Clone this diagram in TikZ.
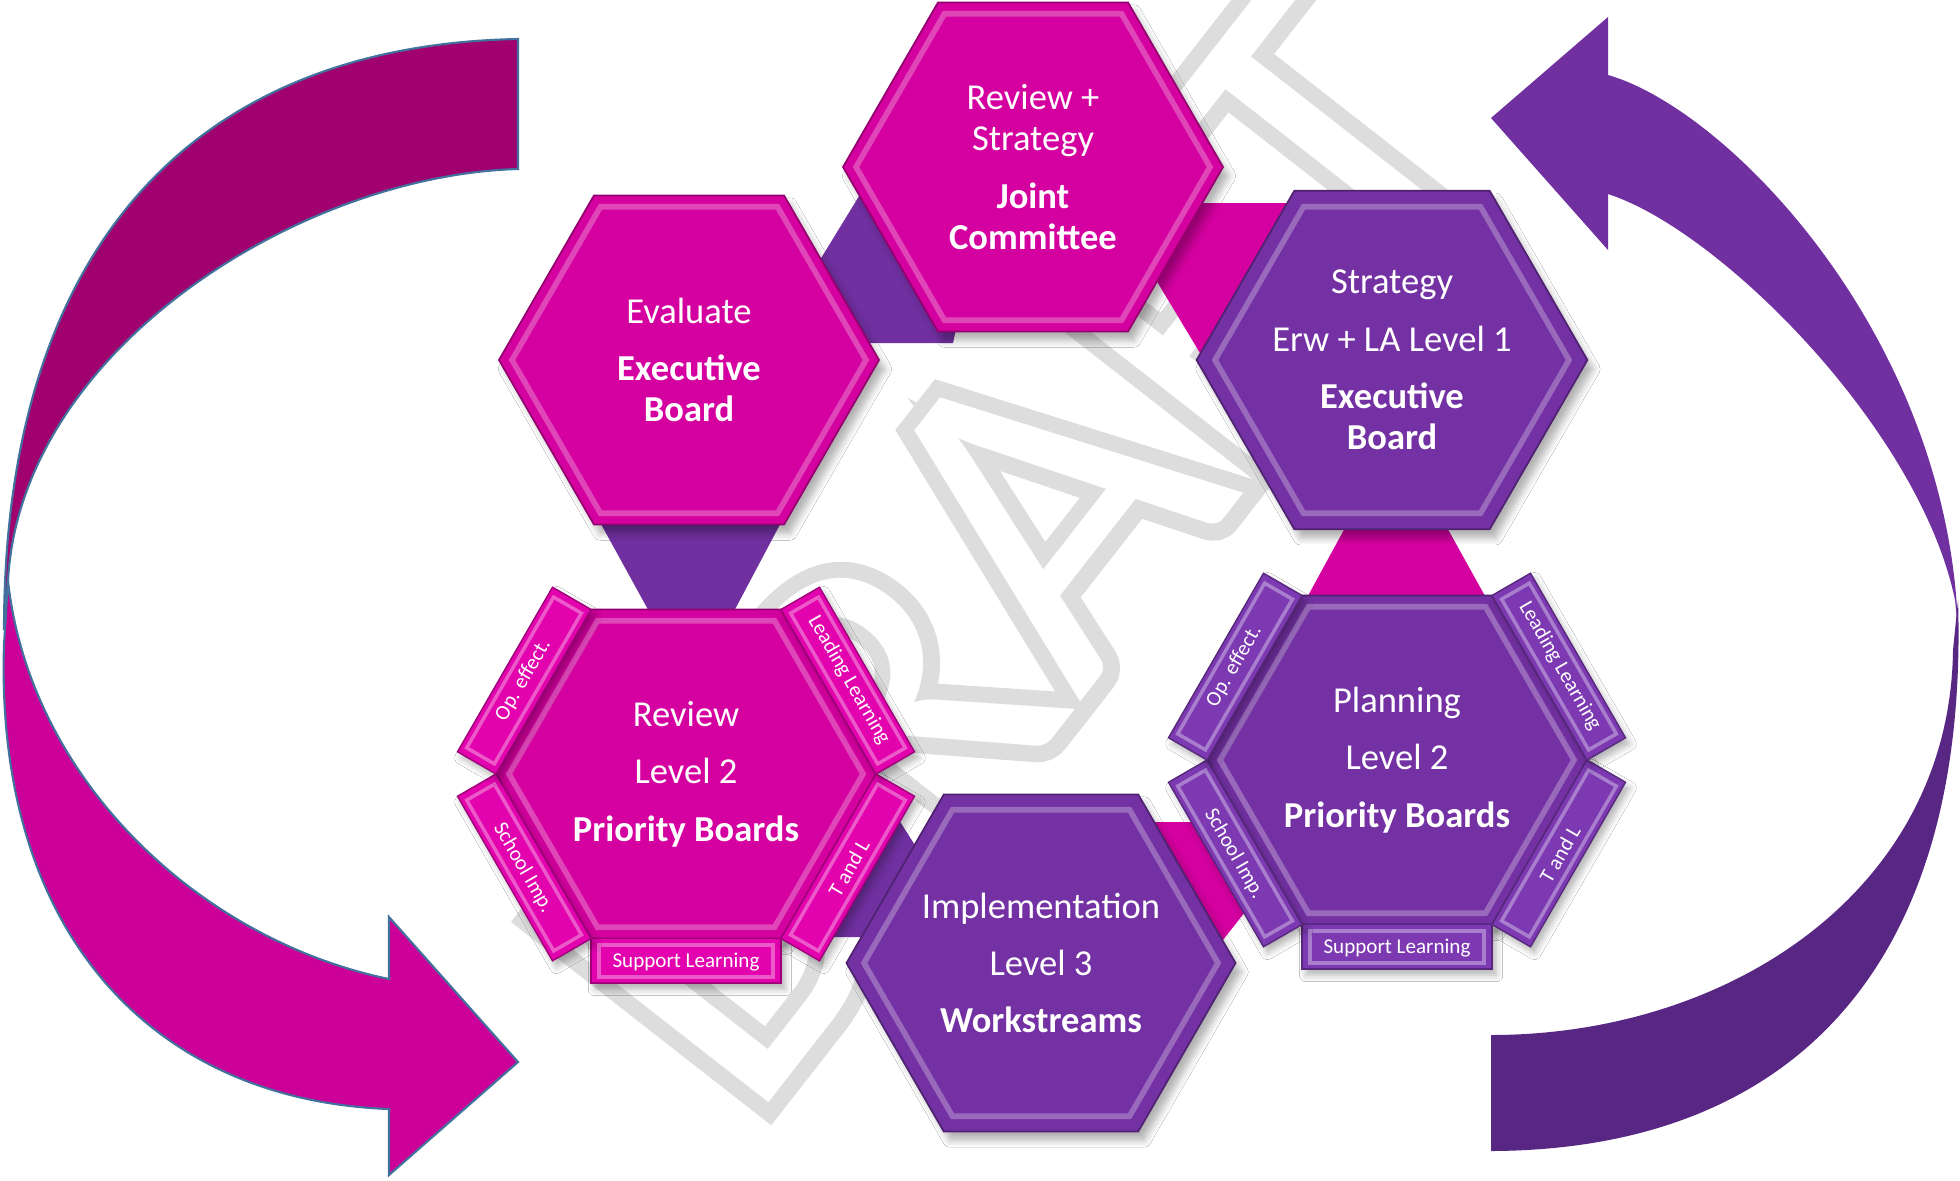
\documentclass[tikz,border=0pt]{standalone}
\usepackage{fontspec}
\setmainfont{Carlito}
\newfontfamily\wmbold[FakeBold=7]{Carlito}
\usetikzlibrary{shapes.geometric,calc,shadows.blur}

\definecolor{magc}{HTML}{D4009F}
\definecolor{purc}{HTML}{7331A3}
\definecolor{tabmag}{HTML}{E202AE}
\definecolor{tabpur}{HTML}{7C39B2}
\definecolor{arrdark}{HTML}{A1006F}
\definecolor{arrlight}{HTML}{CC0099}
\definecolor{arrline}{HTML}{41719C}
\definecolor{parr}{HTML}{7030A0}
\definecolor{parrdark}{HTML}{582784}
\definecolor{wmgray}{HTML}{DDDDDD}

\newcommand\hexfont{\fontsize{10.4}{11.7}\selectfont}
\newcommand\tabfont{\fontsize{6}{7}\selectfont}

\tikzset{
  hexa/.style={regular polygon, regular polygon sides=6, minimum size=3.8cm,
    inner sep=0pt, outer sep=0pt, fill=#1, draw=#1!70!black, line width=0.5pt,
    text=white, align=center, font=\hexfont,
    blur shadow={shadow xshift=0.6mm, shadow yshift=-0.9mm, shadow blur steps=6, shadow opacity=30}},
  bevel/.style={white, opacity=0.28, line width=1.6pt, line join=miter},
  tabbox/.style={fill=#1, draw=#1!70!black, line width=0.4pt,
    blur shadow={shadow xshift=0.4mm, shadow yshift=-0.6mm, shadow blur steps=5, shadow opacity=30}},
  tabhi/.style={white, opacity=0.35, line width=1pt},
  tabtxt/.style={transform shape, text=white, font=\tabfont, inner sep=0pt},
  wm/.style={rotate=52, inner sep=0pt},
}

\begin{document}
\begin{tikzpicture}
\useasboundingbox (0,0) rectangle (19.6,-11.8);
\fill[white] (0,0) rectangle (19.6,-11.8);

% watermark
\node[wm, text=wmgray, font=\wmbold\fontsize{132}{132}\selectfont] (wmback) at (10.15,-5.45) {DRAFT};
\node[wm, text=white, font=\fontsize{132}{132}\selectfont] (wmtxt) at (wmback.center) {DRAFT};

% left arrow
\filldraw[fill=arrdark, draw=arrline, line width=0.6pt] (5.18,-0.39) .. controls (2.0,-0.45) and (0.04,-2.4) .. (0.04,-6.3)
  -- (0.08,-5.81) .. controls (0.2,-3.5) and (3.0,-1.75) .. (5.18,-1.69) -- cycle;
\filldraw[fill=arrlight, draw=arrline, line width=0.6pt] (0.08,-5.81) .. controls (0.3,-7.8) and (2.0,-9.4) .. (3.89,-9.79)
  -- (3.89,-9.17) -- (5.18,-10.62) -- (3.89,-11.75) -- (3.89,-11.09)
  .. controls (1.5,-11.0) and (-0.05,-9.3) .. (0.04,-6.45) -- cycle;

% right arrow
\fill[parrdark] (19.58,-6.0) .. controls (19.7,-9.8) and (17.8,-11.5) .. (14.91,-11.51)
  -- (14.91,-10.35) .. controls (17.3,-10.35) and (19.5,-8.9) .. (19.53,-6.5) -- cycle;
\fill[parr] (16.08,-0.75) .. controls (17.3,-1.1) and (19.5,-3.4) .. (19.58,-6.3)
  -- (19.55,-6.0) .. controls (19.2,-4.3) and (17.2,-2.3) .. (16.08,-1.94)
  -- (16.08,-2.50) -- (14.91,-1.18) -- (16.08,-0.17) -- cycle;

% links behind the hexagons
\fill[parr] (8.75,-1.70) -- (8.12,-2.73) -- (8.50,-3.43) -- (9.53,-3.43) -- (9.58,-3.20) -- (9.40,-2.50) -- cycle;
\fill[magc] (11.95,-2.03) -- (13.0,-2.03) -- (12.6,-3.62) -- (12.03,-3.58) -- (11.44,-2.60) -- cycle;
\fill[magc] (13.52,-5.15) -- (14.40,-5.15) -- (14.90,-6.05) -- (13.03,-6.05) -- cycle;
\fill[parr] (5.96,-5.15) -- (7.85,-5.15) -- (7.32,-6.15) -- (6.51,-6.15) -- cycle;
\fill[parr] (8.50,-7.90) -- (8.80,-7.90) -- (9.37,-8.80) -- (9.00,-9.37) -- (8.15,-9.37) -- cycle;
\fill[magc] (11.45,-8.22) -- (12.30,-8.22) -- (12.90,-8.80) -- (12.45,-9.12) -- (12.15,-9.50) -- cycle;

% hexagons
\node[hexa=magc] (joint) at (10.33,-1.67) {Review +\\Strategy\\[4.6pt]\textbf{Joint}\\\textbf{Committee}};
\node[hexa=magc] (evalb) at (6.89,-3.60) {Evaluate\\[4.6pt]\textbf{Executive}\\\textbf{Board}};
\node[hexa=purc] (strat) at (13.92,-3.60) {Strategy\\[4.6pt]Erw + LA Level 1\\[4.6pt]\textbf{Executive}\\\textbf{Board}};
\node[hexa=magc] (revw) at (6.86,-7.74) {Review\\[4.6pt]Level 2\\[4.6pt]\textbf{Priority Boards}};
\node[hexa=purc] (plan) at (13.97,-7.60) {Planning\\[4.6pt]Level 2\\[4.6pt]\textbf{Priority Boards}};
\node[hexa=purc] (impl) at (10.41,-9.63) {Implementation\\[4.6pt]Level 3\\[4.6pt]\textbf{Workstreams}};
\foreach \h in {joint,evalb,strat,revw,plan,impl}
  \draw[bevel] ($(\h)+(0:1.77)$) -- ($(\h)+(60:1.77)$) -- ($(\h)+(120:1.77)$) -- ($(\h)+(180:1.77)$)
    -- ($(\h)+(240:1.77)$) -- ($(\h)+(300:1.77)$) -- cycle;

% tabs round the priority boards
\foreach \a/\lab [count=\i] in {0/Support Learning, 60/T and L, -60/School Imp., 120/Leading Learning, -120/Op. effect.}{
  \pgfmathsetmacro\f{abs(\a)>90 ? 180 : 0}
  \begin{scope}[shift={(revw.center)}, rotate=\a]
    \filldraw[tabbox=tabmag] (-0.95,-1.645) rectangle (0.95,-2.09);
    \draw[tabhi] (-0.87,-1.71) rectangle (0.87,-2.03);
    \node[tabtxt, rotate=\f] (rtab\i) at (0,-1.88) {\lab};
  \end{scope}
  \begin{scope}[shift={(plan.center)}, rotate=\a]
    \filldraw[tabbox=tabpur] (-0.95,-1.645) rectangle (0.95,-2.09);
    \draw[tabhi] (-0.87,-1.71) rectangle (0.87,-2.03);
    \node[tabtxt, rotate=\f] (ptab\i) at (0,-1.88) {\lab};
  \end{scope}
}
\end{tikzpicture}
\end{document}
